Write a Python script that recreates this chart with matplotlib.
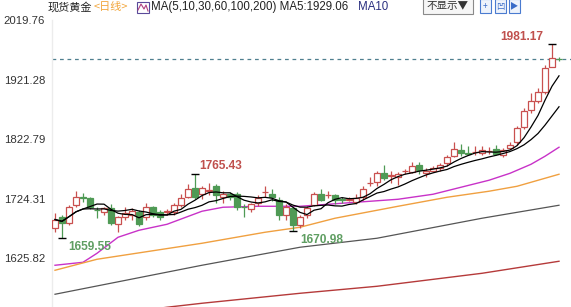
import numpy as np
import pandas as pd
import matplotlib
matplotlib.use("Agg")
import matplotlib.pyplot as plt
from matplotlib.patches import Rectangle
from matplotlib.lines import Line2D

# ---------------- data ----------------
opens = [1676, 1694, 1684, 1714, 1727, 1725, 1706, 1702, 1709, 1682,
         1694, 1697, 1702, 1694, 1710, 1702, 1702, 1702, 1714, 1728,
         1742, 1733, 1738, 1745, 1728, 1733, 1733, 1711, 1708, 1717,
         1735, 1733, 1723, 1697, 1709, 1681, 1697, 1714, 1733, 1730,
         1730, 1724, 1723, 1719, 1727, 1750, 1752, 1767, 1762, 1760,
         1770, 1768, 1780, 1767, 1770, 1775, 1783, 1795, 1805, 1800,
         1801, 1800, 1803, 1807, 1797, 1808, 1818, 1843, 1871, 1886,
         1901, 1942, 1956]
highs = [1700, 1697, 1714, 1738, 1734, 1727, 1710, 1711, 1716, 1696,
         1710, 1709, 1705, 1718, 1713, 1705, 1708, 1718, 1733, 1748,
         1765.43, 1745, 1750, 1748, 1738, 1735, 1736, 1716, 1718, 1730,
         1745, 1741, 1728, 1715, 1712, 1697, 1712, 1736, 1740, 1737,
         1733, 1727, 1727, 1733, 1745, 1760, 1770, 1780, 1770, 1768,
         1773, 1785, 1786, 1775, 1778, 1784, 1796, 1818, 1815, 1812,
         1812, 1812, 1810, 1813, 1808, 1819, 1845, 1875, 1899, 1907,
         1945, 1981.17, 1959]
lows = [1669, 1659.55, 1681, 1710, 1719, 1708, 1692, 1697, 1681, 1669,
        1689, 1689, 1679, 1689, 1694, 1690, 1697, 1698, 1710, 1725,
        1724, 1724, 1731, 1718, 1718, 1722, 1705, 1694, 1703, 1713,
        1728, 1720, 1690, 1690, 1670.98, 1676, 1692, 1712, 1720, 1725,
        1715, 1718, 1720, 1716, 1722, 1745, 1745, 1755, 1750, 1747,
        1766, 1767, 1766, 1761, 1768, 1770, 1778, 1793, 1795, 1796,
        1797, 1797, 1798, 1796, 1793, 1806, 1814, 1840, 1867, 1883,
        1898, 1942, 1952]
closes = [1690, 1684, 1710, 1727, 1726, 1710, 1705, 1709, 1684, 1694,
          1700, 1704, 1682, 1710, 1697, 1694, 1704, 1714, 1725, 1740,
          1727, 1742, 1739, 1730, 1733, 1727, 1710, 1710, 1715, 1725,
          1736, 1727, 1697, 1710, 1681, 1694, 1709, 1733, 1722, 1731,
          1722, 1723, 1724, 1725, 1740, 1751, 1767, 1758, 1763, 1766,
          1771, 1778, 1772, 1771, 1775, 1781, 1793, 1806, 1800, 1799,
          1802, 1805, 1803, 1798, 1805, 1814, 1841, 1869, 1886, 1901,
          1940, 1957, 1955]

# longer moving averages, read at a few candles
ma30_idx = [0, 4, 6, 9, 12, 16, 21, 24, 29, 35, 41, 45, 49, 54, 58, 62, 65, 68, 70, 72]
ma30_val = [1614.3, 1619.2, 1634.1, 1660.6, 1672.2, 1682.1, 1703.7, 1710.3, 1711.9, 1711.9,
            1716.9, 1720.2, 1723.5, 1731.8, 1743.4, 1755.0, 1766.5, 1781.4, 1794.7, 1809.6]
ma60_idx = [0, 6, 21, 30, 35, 40, 46, 49, 56, 62, 66, 72]
ma60_val = [1606.0, 1624.2, 1650.7, 1668.9, 1677.2, 1692.1, 1705.3, 1711.9, 1726.8, 1736.8, 1745.0, 1764.9]
ma100_idx = [0, 21, 35, 46, 61, 72]
ma100_val = [1566.3, 1614.3, 1644.1, 1659.0, 1692.1, 1713.6]
ma200_idx = [0, 16, 21, 35, 46, 61, 72]
ma200_val = [1519.9, 1544.8, 1551.4, 1567.9, 1579.5, 1601.0, 1620.9]

yticks = [1625.82, 1724.31, 1822.79, 1921.28, 2019.76]

# ---------------- figure ----------------
W, H = 571, 307
fig = plt.figure(figsize=(W / 100, H / 100), dpi=100)
ax = fig.add_axes([52 / W, 0, (W - 52) / W, (H - 20) / H])
ax.set_xlim(-3 / 7, 516 / 7)
ax.set_ylim(1545.2, 2020.2)

UP = "#c9504f"
DOWN = "#4f9a55"
n = len(closes)
x = np.arange(n)
o = np.array(opens); c = np.array(closes); h = np.array(highs); l = np.array(lows)
up = c >= o
cols = np.where(up, UP, DOWN)

ax.vlines(x, l, h, colors=cols, lw=0.9, zorder=3)
bottoms = np.minimum(o, c)
heights = np.maximum(np.abs(c - o), 0.4)
ax.bar(x[up], heights[up], bottom=bottoms[up], width=0.72, facecolor="white",
       edgecolor=UP, linewidth=0.9, zorder=4)
ax.bar(x[~up], heights[~up], bottom=bottoms[~up], width=0.72, facecolor=DOWN,
       edgecolor=DOWN, linewidth=0.9, zorder=4)

s = pd.Series(closes)
ma5 = s.rolling(5, min_periods=1).mean()
ma10 = s.rolling(10, min_periods=1).mean()
ax.plot(x, ma5, color="black", lw=0.9, zorder=5)
ax.plot(x, ma10, color="black", lw=0.9, zorder=5)
ax.plot(ma30_idx, ma30_val, color="#c832c8", lw=1.0, zorder=2)
ax.plot(ma60_idx, ma60_val, color="#f0a040", lw=1.0, zorder=2)
ax.plot(ma100_idx, ma100_val, color="#555555", lw=0.9, zorder=2)
ax.plot(ma200_idx, ma200_val, color="#b53a3a", lw=1.0, zorder=2)

# last price dashed line
ax.axhline(closes[-1], color="#4f7f8f", lw=0.9, ls=(0, (3, 3)), zorder=1)

# extreme marks and labels
def mark(i, v, txt, col, dx, dy, ha):
    ax.hlines(v, i - 0.6, i + 0.6, colors="black", lw=1.0, zorder=6)
    ax.annotate(txt, (i, v), xytext=(dx, dy), textcoords="offset pixels",
                ha=ha, va="center", color=col, fontsize=8.6,
                family="Liberation Sans", fontweight="bold")

imax = int(np.argmax(h))
mark(imax, h[imax], "%.2f" % h[imax], "#c0504d", -9, 7, "right")
mark(20, h[20], "%.2f" % h[20], "#c0504d", 4, 8, "left")
mark(1, l[1], "%.2f" % l[1], "#5f9e62", 6, -9, "left")
mark(34, l[34], "%.2f" % l[34], "#5f9e62", 7, -9, "left")

ax.set_yticks(yticks)
ax.set_yticklabels(["%.2f" % t for t in yticks], family="Liberation Sans",
                   fontsize=8.2, color="#333333")
ax.tick_params(axis="y", length=0, pad=5)
ax.set_xticks([])
for sp in ["top", "right", "bottom"]:
    ax.spines[sp].set_visible(False)
ax.spines["left"].set_color("#ececec")
ax.spines["left"].set_linewidth(1.0)

# ---------------- header ----------------
def P(px, py):
    return (px / W, 1 - py / H)

cjk = ["Noto Sans CJK SC", "DejaVu Sans"]
fig.text(*P(48, 7), "现货黄金", fontsize=8, family=cjk, va="center", color="#222222")
fig.text(*P(94, 7), "<日线>", fontsize=8, family=cjk, va="center", color="#f2a53a")
# small indicator icon
fig.patches.append(Rectangle(P(137, 13), 12 / W, 11 / H, transform=fig.transFigure,
                             facecolor="white", edgecolor="#5a4a9a", lw=0.8))
fig.lines.append(Line2D([138 / W, 141 / W, 144 / W, 146 / W, 148 / W],
                        [1 - 10 / H, 1 - 4 / H, 1 - 9 / H, 1 - 5 / H, 1 - 11 / H],
                        transform=fig.transFigure, color="#b04080", lw=0.8))
fig.text(*P(151, 7), "MA(5,10,30,60,100,200) MA5:1929.06", fontsize=8.3,
         family="Liberation Sans", va="center", color="#222222")
fig.text(*P(358, 7), "MA10", fontsize=8.3, family="Liberation Sans",
         va="center", color="#2a2f80")

# buttons top-right
fig.patches.append(Rectangle(P(423, 14), 50 / W, 16 / H, transform=fig.transFigure,
                             facecolor="#f6f6f6", edgecolor="#8a8a8a", lw=0.8))
fig.text(*P(448, 6), "不显示▼", fontsize=7.6, family=cjk, va="center", ha="center",
         color="#333333")
for bx, sym in [(480, "+"), (495, "凹"), (509, "▶")]:
    fig.patches.append(Rectangle(P(bx, 13), 11 / W, 14 / H, transform=fig.transFigure,
                                 facecolor="#eef3fb", edgecolor="#4a7bd0", lw=0.8))
    fig.text(*P(bx + 5.5, 6), sym, fontsize=6, family=cjk, va="center", ha="center",
             color="#3a6cc8")

fig.savefig("out.png", dpi=100, facecolor="white")
